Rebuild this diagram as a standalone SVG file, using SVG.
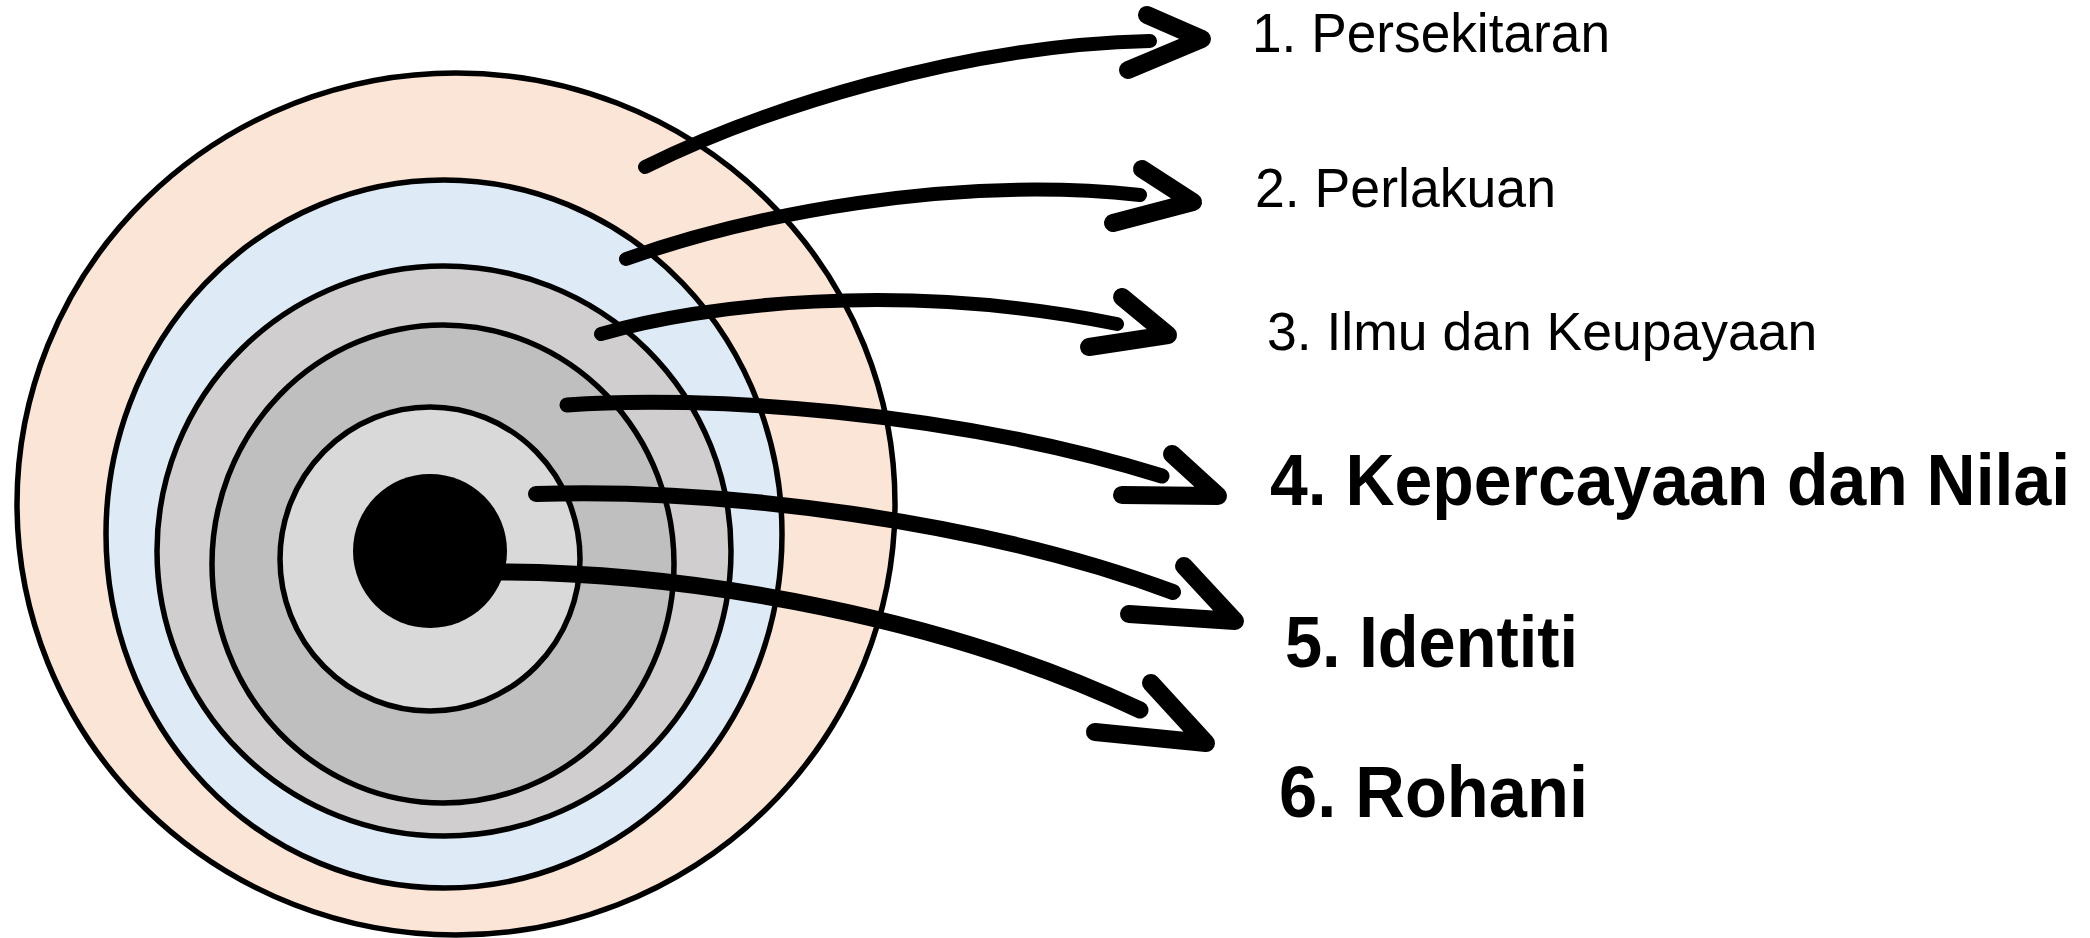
<svg xmlns="http://www.w3.org/2000/svg" width="2090" height="938" viewBox="0 0 2090 938">
<style>
.ring{stroke:#000;stroke-width:5.5}
.shaft{fill:none;stroke:#000;stroke-linecap:round;stroke-linejoin:round}
.head{fill:none;stroke:#000;stroke-width:18;stroke-linecap:round;stroke-linejoin:round}
.reg{font-family:"Liberation Sans",Arial,sans-serif;font-size:56px;fill:#000}
.bold{font-family:"Liberation Sans",Arial,sans-serif;font-size:72px;font-weight:bold;fill:#000}
</style>
<rect width="2090" height="938" fill="#fff"/>
<g id="ring1"><ellipse class="ring" cx="456" cy="504" rx="439" ry="431" fill="#fbe5d6"/></g>
<g id="ring2"><ellipse class="ring" cx="444" cy="534" rx="338" ry="354" fill="#deebf7"/></g>
<g id="ring3"><ellipse class="ring" cx="444" cy="551" rx="287" ry="285" fill="#d0cece"/></g>
<g id="ring4"><ellipse class="ring" cx="443" cy="564" rx="231" ry="239" fill="#bfbfbf"/></g>
<g id="ring5"><ellipse class="ring" cx="430" cy="559" rx="150" ry="152" fill="#d9d9d9"/></g>
<g id="core"><ellipse cx="430" cy="551" rx="77" ry="77" fill="#000"/></g>
<g id="connectors">
<path class="shaft" stroke-width="14" d="M645,167 C760,110 960,45 1150,41"/>
<polyline class="head" points="1147,15 1202,39 1128,70"/>
<path class="shaft" stroke-width="14" d="M626,259 C750,215 950,175 1140,195"/>
<polyline class="head" points="1142,169 1193,202 1113,223"/>
<path class="shaft" stroke-width="14" d="M601,334 C700,305 900,280 1117,324"/>
<polyline class="head" points="1122,297 1168,335 1089,347"/>
<path class="shaft" stroke-width="15" d="M567,405 C700,395 950,410 1162,476"/>
<polyline class="head" points="1172,454 1218,496 1122,495"/>
<path class="shaft" stroke-width="16" d="M536,494 C720,488 980,520 1173,592"/>
<polyline class="head" points="1184,566 1235,621 1129,614"/>
<path class="shaft" stroke-width="17" d="M495,572 C700,572 950,620 1140,710"/>
<polyline class="head" points="1151,683 1206,743 1095,732"/>
</g>
<g id="label1"><text class="reg" x="1252" y="52" textLength="358" lengthAdjust="spacingAndGlyphs">1. Persekitaran</text></g>
<g id="label2"><text class="reg" x="1255" y="207" textLength="301" lengthAdjust="spacingAndGlyphs">2. Perlakuan</text></g>
<g id="label3"><text class="reg" x="1267" y="350" style="font-size:53.5px">3. Ilmu dan Keupayaan</text></g>
<g id="label4"><text class="bold" x="1270" y="505" textLength="800" lengthAdjust="spacingAndGlyphs">4. Kepercayaan dan Nilai</text></g>
<g id="label5"><text class="bold" x="1285" y="667" textLength="293" lengthAdjust="spacingAndGlyphs">5. Identiti</text></g>
<g id="label6"><text class="bold" x="1279" y="817" textLength="309" lengthAdjust="spacingAndGlyphs">6. Rohani</text></g>
</svg>
